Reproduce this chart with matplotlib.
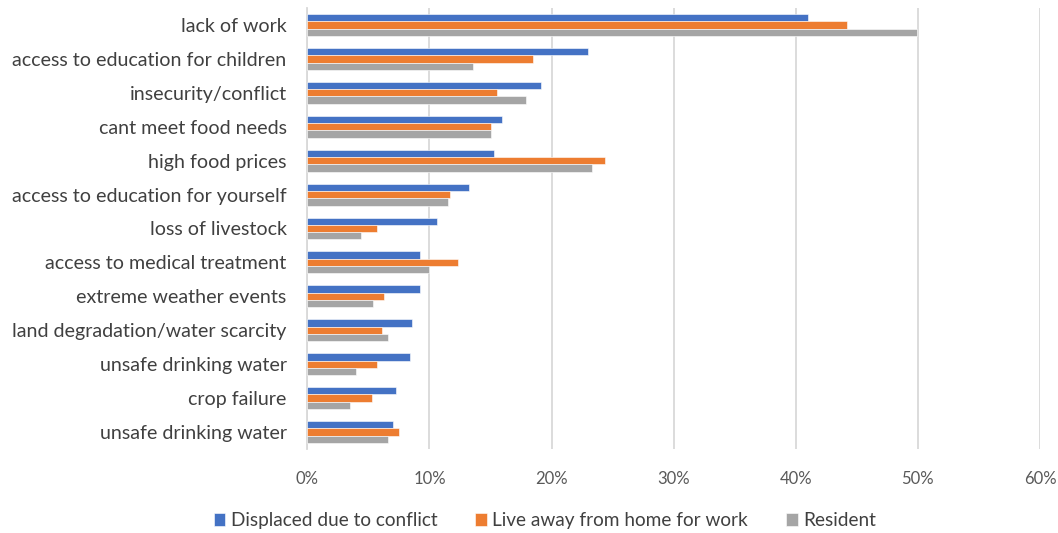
import numpy as np
import matplotlib.pyplot as plt
from matplotlib.ticker import PercentFormatter

plt.rcParams['font.family'] = ['Lato', 'DejaVu Sans']

categories = [
    'lack of work',
    'access to education for children',
    'insecurity/conflict',
    'cant meet food needs',
    'high food prices',
    'access to education for yourself',
    'loss of livestock',
    'access to medical treatment',
    'extreme weather events',
    'land degradation/water scarcity',
    'unsafe drinking water',
    'crop failure',
    'unsafe drinking water',
]
displaced = [41.0, 23.0, 19.1, 15.9, 15.3, 13.2, 10.6, 9.2, 9.2, 8.6, 8.4, 7.3, 7.0]
away_for_work = [44.2, 18.5, 15.5, 15.0, 24.4, 11.7, 5.7, 12.3, 6.3, 6.1, 5.7, 5.3, 7.5]
resident = [49.9, 13.6, 17.9, 15.0, 23.3, 11.5, 4.4, 10.0, 5.4, 6.6, 4.0, 3.5, 6.6]

series = [
    ('Displaced due to conflict', displaced, '#4472C4'),
    ('Live away from home for work', away_for_work, '#ED7D31'),
    ('Resident', resident, '#A5A5A5'),
]

fig = plt.figure(figsize=(10.58, 5.33), dpi=100)
ax = fig.add_axes([0.2905, 0.1576, 0.6925, 0.8274])

y = np.arange(len(categories))
h = 0.215
for i, (name, vals, color) in enumerate(series):
    ax.barh(y + (i - 1) * h, vals, height=h, color=color, label=name,
            edgecolor='white', linewidth=0.4, zorder=3)

ax.set_ylim(len(categories) - 0.5, -0.5)
ax.set_xlim(0, 60)
ax.set_xticks(np.arange(0, 61, 10))
ax.xaxis.set_major_formatter(PercentFormatter(decimals=0))
ax.set_yticks(y)
ax.set_yticklabels(categories)

ax.grid(axis='x', color='#d9d9d9', linewidth=1.3, zorder=0)
for s in ['top', 'right', 'bottom']:
    ax.spines[s].set_visible(False)
ax.spines['left'].set_color('#d9d9d9')
ax.spines['left'].set_linewidth(1.3)
ax.tick_params(axis='y', length=0, pad=15, labelsize=14.1, labelcolor='#404040')
ax.tick_params(axis='x', length=0, pad=16, labelsize=12, labelcolor='#595959')

fig.legend(loc='lower center', bbox_to_anchor=(0.515, -0.025), ncol=3, frameon=False,
           fontsize=13.7, handlelength=0.6, handleheight=0.6, columnspacing=2.0,
           handletextpad=0.3, labelcolor='#404040')

fig.savefig('out.png', dpi=100)
